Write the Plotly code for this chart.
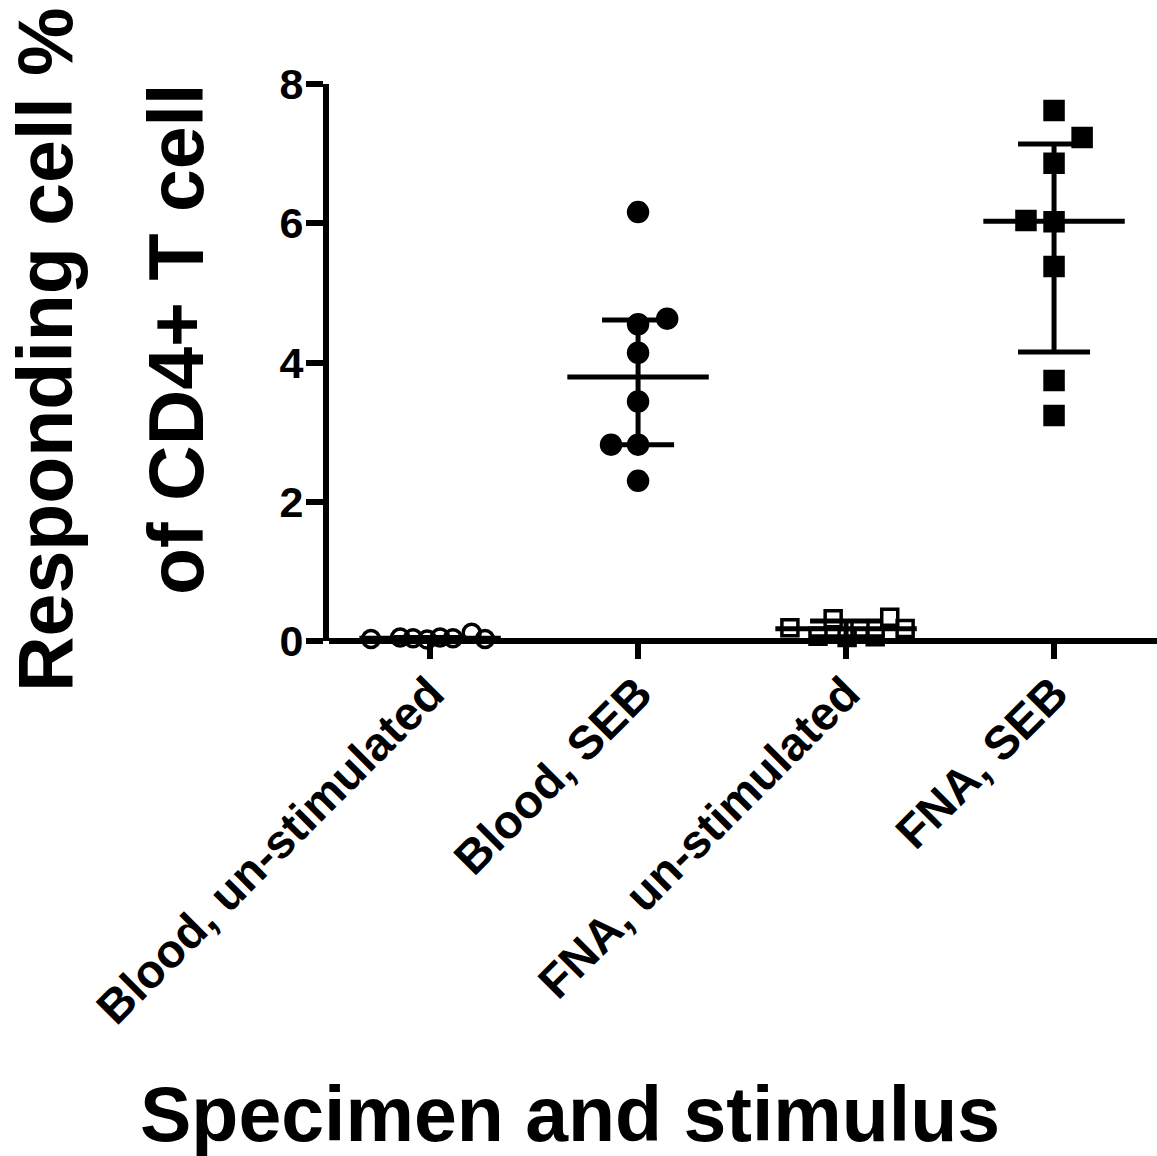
import numpy as np
import plotly.graph_objects as go

# Groups shown along the x axis
categories = ["Blood, un-stimulated", "Blood, SEB", "FNA, un-stimulated", "FNA, SEB"]

# Responding cells (% of CD4+ T cells), one value per donor
blood_unstim = [0.03, 0.05, 0.04, 0.02, 0.05, 0.04, 0.12, 0.03]
blood_seb = [6.16, 4.63, 4.55, 4.14, 3.44, 2.82, 2.82, 2.30]
fna_unstim = [0.19, 0.07, 0.32, 0.05, 0.17, 0.06, 0.34, 0.18]
fna_seb = [7.62, 7.23, 6.86, 6.04, 6.02, 5.38, 3.74, 3.24]

# Horizontal spread of overlapping points within each column (category units)
blood_unstim_spread = [-0.284, -0.144, -0.082, -0.014, 0.048, 0.11, 0.20, 0.264]
blood_seb_spread = [0, 0.14, 0, 0, 0, -0.13, 0, 0]
fna_unstim_spread = [-0.27, -0.135, -0.062, 0.005, 0.067, 0.14, 0.21, 0.284]
fna_seb_spread = [0, 0.135, 0, -0.135, 0, 0, 0, 0]

y_ticks = [0, 2, 4, 6, 8]

groups = [
    (blood_unstim, blood_unstim_spread, "circle-open", 17),
    (blood_seb, blood_seb_spread, "circle", 19),
    (fna_unstim, fna_unstim_spread, "square-open", 16),
    (fna_seb, fna_seb_spread, "square", 18),
]

FONT = "Liberation Sans, Arial, sans-serif"
BLACK = "#000000"
fig = go.Figure()

for i, (vals, spread, symbol, size) in enumerate(groups):
    arr = np.array(vals)
    med = float(np.median(arr))
    q1, q3 = np.percentile(arr, [25, 75], method="weibull")
    # median line
    fig.add_trace(go.Scatter(
        x=[i - 0.34, i + 0.34], y=[med, med], mode="lines",
        line=dict(color=BLACK, width=5), hoverinfo="skip", cliponaxis=False,
    ))
    # interquartile range
    fig.add_trace(go.Scatter(
        x=[i], y=[med], mode="markers", marker=dict(size=1, opacity=0),
        error_y=dict(type="data", symmetric=False, array=[q3 - med],
                     arrayminus=[med - q1], color=BLACK, thickness=5, width=36),
        hoverinfo="skip", cliponaxis=False,
    ))
    # individual donors
    fig.add_trace(go.Scatter(
        x=[i + s for s in spread], y=vals, mode="markers",
        marker=dict(symbol=symbol, size=size, color=BLACK,
                    line=dict(color=BLACK, width=3.5)),
        cliponaxis=False,
    ))

L, R, T, B = 329, 1157, 84, 641
W, H = 1157, 1156

fig.update_layout(
    width=W, height=H,
    margin=dict(l=L, r=W - R, t=T, b=H - B, pad=0),
    paper_bgcolor="white", plot_bgcolor="white",
    showlegend=False,
    font=dict(family=FONT, color=BLACK),
    xaxis=dict(
        range=[-0.486, 3.495], tickmode="array", tickvals=list(range(len(categories))),
        ticktext=categories, tickangle=-45, showline=False, showgrid=False,
        zeroline=False, ticks="outside", ticklen=17, tickwidth=6, tickcolor=BLACK,
        ticklabelstandoff=-12,
        tickfont=dict(family=FONT, size=47, color=BLACK, weight="bold"),
    ),
    yaxis=dict(
        range=[0, 8], tickmode="array", tickvals=y_ticks,
        showline=True, linewidth=6, linecolor=BLACK, showgrid=False,
        zeroline=True, zerolinewidth=6, zerolinecolor=BLACK,
        ticks="outside", ticklen=17, tickwidth=6, tickcolor=BLACK,
        ticklabelstandoff=-6,
        tickfont=dict(family=FONT, size=43, color=BLACK, weight="bold"),
    ),
)

def px_x(p):
    return (p - L) / (R - L)

def px_y(p):
    return (B - p) / (B - T)

title_font = dict(family=FONT, size=77, color=BLACK, weight="bold")
fig.add_annotation(
    text="Specimen and stimulus", xref="paper", yref="paper",
    x=px_x(570), y=px_y(1114), xanchor="center", yanchor="middle",
    showarrow=False, font=title_font,
)
fig.add_annotation(
    text="Responding cell %", xref="paper", yref="paper",
    x=px_x(45), y=px_y(350), xanchor="center", yanchor="middle",
    textangle=-90, showarrow=False, font=title_font,
)
fig.add_annotation(
    text="of CD4+ T cell", xref="paper", yref="paper",
    x=px_x(176), y=px_y(340), xanchor="center", yanchor="middle",
    textangle=-90, showarrow=False, font=title_font,
)

fig.write_html("out.html")
